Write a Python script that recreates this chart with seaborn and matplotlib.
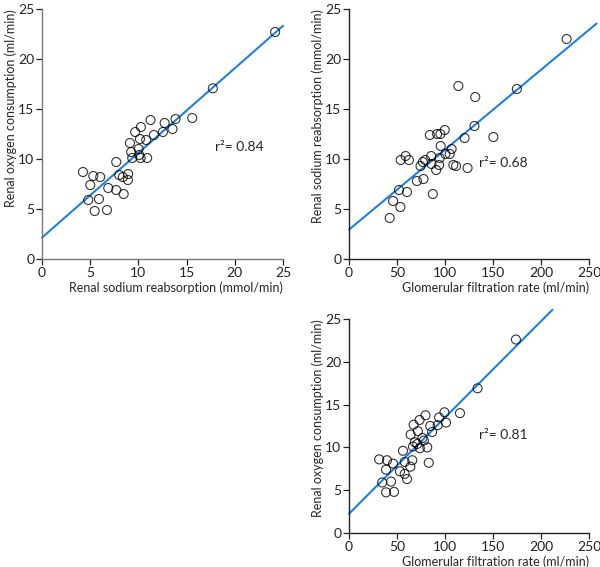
import numpy as np
import pandas as pd
import matplotlib
matplotlib.use("Agg")
import matplotlib.pyplot as plt
import seaborn as sns

# panel A: sodium reabsorption vs oxygen consumption
na_reabs_a = [24.18, 17.72, 15.58, 13.85, 12.72, 11.26, 10.26, 9.67, 13.54, 12.54,
              11.61, 10.81, 10.16, 9.12, 10.02, 9.25, 10.08, 9.36, 10.23, 10.91,
              7.70, 4.25, 5.32, 6.04, 8.01, 8.39, 8.94, 8.91, 5.01, 6.87,
              7.70, 8.47, 4.80, 5.91, 5.46, 6.74]
o2_cons_a = [22.7, 17.07, 14.1, 14.0, 13.6, 13.9, 13.2, 12.7, 13.0, 12.7,
             12.4, 11.9, 12.0, 11.6, 11.0, 10.7, 10.4, 10.1, 10.1, 10.1,
             9.7, 8.7, 8.3, 8.2, 8.4, 8.2, 8.5, 7.9, 7.4, 7.1,
             6.9, 6.5, 5.9, 6.0, 4.8, 4.9]

# panel B: GFR vs sodium reabsorption
gfr_b = [226.7, 174.9, 113.9, 131.5, 130.7, 150.4, 120.4, 99.7, 95.2, 91.8,
         84.2, 95.5, 106.9, 104.9, 100.4, 94.5, 85.6, 79.4, 76.9, 74.5,
         85.9, 93.9, 90.8, 108.7, 111.5, 123.5, 59.0, 53.8, 62.4, 70.7,
         77.6, 52.1, 60.4, 87.3, 45.9, 53.5, 42.4]
na_reabs_b = [22.0, 17.0, 17.3, 16.2, 13.3, 12.2, 12.1, 12.9, 12.5, 12.5,
              12.4, 11.3, 11.0, 10.5, 10.5, 10.1, 10.3, 9.9, 9.7, 9.3,
              9.5, 9.4, 8.9, 9.4, 9.3, 9.1, 10.3, 9.9, 9.9, 7.8,
              8.0, 6.9, 6.7, 6.5, 5.8, 5.2, 4.1]

# panel C: GFR vs oxygen consumption
gfr_c = [173.9, 133.9, 115.6, 99.4, 93.9, 79.7, 73.5, 67.3, 84.6, 92.4,
         101.1, 71.7, 86.6, 64.2, 76.6, 78.0, 68.6, 71.1, 66.6, 73.8,
         81.5, 56.2, 31.4, 39.6, 45.9, 58.0, 65.9, 63.9, 83.1, 38.6,
         53.1, 58.0, 60.4, 34.5, 43.8, 38.6, 46.9]
o2_cons_c = [22.6, 16.9, 14.0, 14.1, 13.5, 13.75, 13.2, 12.65, 12.5, 12.6,
             12.9, 11.9, 11.8, 11.5, 11.1, 10.8, 10.6, 10.4, 10.1, 9.9,
             10.0, 9.6, 8.6, 8.5, 8.1, 8.3, 8.5, 7.75, 8.2, 7.4,
             7.2, 6.9, 6.3, 5.9, 6.0, 4.75, 4.8]

r2_labels = ["0.84", "0.68", "0.81"]
x_labels = ["Renal sodium reabsorption (mmol/min)",
            "Glomerular filtration rate (ml/min)",
            "Glomerular filtration rate (ml/min)"]
y_labels = ["Renal oxygen consumption (ml/min)",
            "Renal sodium reabsorption (mmol/min)",
            "Renal oxygen consumption (ml/min)"]

sns.set_style("ticks")
plt.rcParams["font.family"] = ["Lato", "DejaVu Sans"]

fig = plt.figure(figsize=(6, 5.67), dpi=100)
axes = [
    fig.add_axes([0.07, 0.5432, 0.4017, 0.4409]),
    fig.add_axes([0.5817, 0.5432, 0.3999, 0.4409]),
    fig.add_axes([0.5817, 0.06, 0.3999, 0.3774]),
]

panels = [
    (na_reabs_a, o2_cons_a, 25, 25, (17.9, 11.2), "#777777"),
    (gfr_b, na_reabs_b, 258, 250, (135, 9.6), "#222222"),
    (gfr_c, o2_cons_c, 212, 250, (135, 11.4), "#222222"),
]

for i, (ax, (xv, yv, line_end, x_max, r2_pos, spine_col)) in enumerate(zip(axes, panels)):
    df = pd.DataFrame({"x": xv, "y": yv})
    # regplot extends line to current xlim when truncate=False
    ax.set_xlim(0, line_end)
    sns.regplot(data=df, x="x", y="y", ax=ax, ci=None, truncate=False,
                scatter_kws=dict(s=42, facecolors="none", edgecolors="black",
                                 linewidths=0.8, clip_on=False, zorder=3),
                line_kws=dict(color="#1f7fe6", lw=1.5, clip_on=False, zorder=2))
    ax.set_xlim(0, x_max)
    ax.set_ylim(0, 25)
    ax.set_xticks(np.linspace(0, x_max, 6))
    ax.set_yticks(np.arange(0, 26, 5))
    ax.tick_params(labelsize=10, length=4, width=0.9, colors="#222222",
                   pad=1.5)
    for side in ["left", "bottom"]:
        ax.spines[side].set_color(spine_col)
        ax.spines[side].set_linewidth(1.0)
    sns.despine(ax=ax)
    ax.set_xlabel(x_labels[i], fontsize=9, loc="right", labelpad=2)
    ax.set_ylabel(y_labels[i], fontsize=9, loc="top", labelpad=1)
    ax.text(r2_pos[0], r2_pos[1], "r\u00b2= " + r2_labels[i], fontsize=10,
            va="center", ha="left")

fig.savefig("out.png", dpi=100)
